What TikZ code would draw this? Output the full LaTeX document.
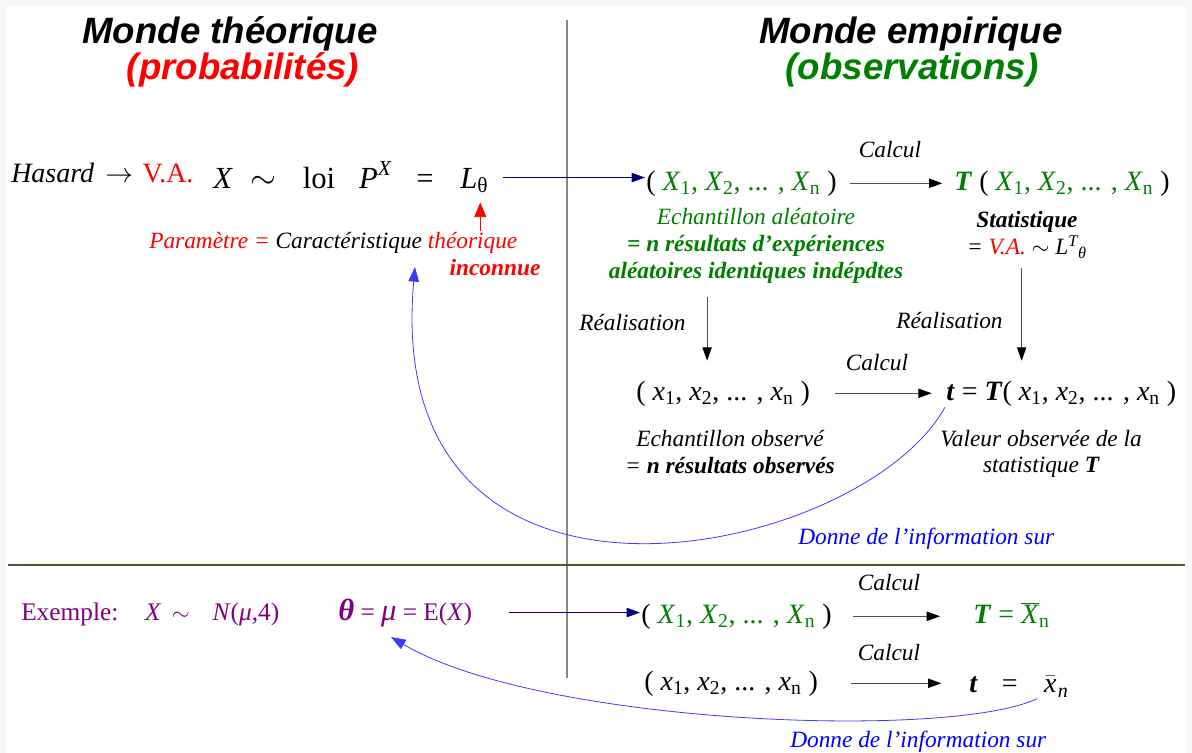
\documentclass[tikz,border=0pt]{standalone}
\usepackage{fontspec}
\setmainfont{Liberation Serif}
\newfontfamily\titlefont{Liberation Sans}
\usetikzlibrary{arrows.meta,positioning}

\definecolor{vert}{RGB}{0,128,0}
\definecolor{rouge}{RGB}{255,0,0}
\definecolor{pourpre}{RGB}{128,0,128}
\definecolor{marine}{RGB}{0,0,128}
\definecolor{bleu}{RGB}{0,0,255}
\definecolor{bleuc}{RGB}{60,60,255}
\definecolor{gris}{RGB}{135,135,122}
\definecolor{brun}{RGB}{90,82,50}
\definecolor{fond}{RGB}{248,248,248}

\newcommand{\varX}[1]{\textit{X}\textsubscript{#1}}
\newcommand{\varx}[1]{\textit{x}\textsubscript{#1}}

\begin{document}
\begin{tikzpicture}[x=0.75pt,y=0.75pt,yscale=-1,
    every node/.style={inner sep=0.75pt},
    titre/.style={font=\titlefont\bfseries\itshape\fontsize{27.5}{32}\selectfont},
    grand/.style={font=\fontsize{21}{25}\selectfont},
    exfont/.style={font=\fontsize{19}{23}\selectfont},
    texte/.style={font=\fontsize{17.5}{20}\selectfont\itshape,align=center},
    calc/.style={-{Triangle[length=10pt,width=7pt,color=black]},draw=gris!60!black,line width=0.8pt},
    versech/.style={-{Triangle[length=10pt,width=7pt]},draw=marine,line width=0.8pt},
    info/.style={-{Triangle[length=11pt,width=8pt]},draw=bleuc,line width=0.6pt}]
    \useasboundingbox (0,0) rectangle (1192,753);
    \fill[fond] (0,0) rectangle (1192,753);
    \fill[white] (7,7) rectangle (1186,753);

    % separations
    \draw[gris,line width=1pt] (567,20) -- (567,678);
    \draw[brun,line width=1pt] (8,565) -- (1185,565);

    % Titles
    \node[titre,anchor=base] (mondeT) at (230,43) {Monde théorique};
    \node[titre,anchor=base,text=rouge] (probas) at (243,79) {(probabilités)};
    \node[titre,anchor=base] (mondeE) at (911,43) {Monde empirique};
    \node[titre,anchor=base,text=vert] (observ) at (912,79) {(observations)};

    % Text Node: loi
    \node[grand,anchor=base west] (hasard) at (10,182) {\textit{Hasard}\hspace{3pt} $\rightarrow$ \hspace{2pt}\textcolor{rouge}{V.A.}};
    \node[grand,anchor=base west,font=\fontsize{23}{27}\selectfont] (loi) at (212,188) {\textit{X}\hspace{13pt}$\sim$\hspace{20pt}loi\hspace{18pt}\textit{P}\textsuperscript{\textit{X}}\hspace{18pt}=\hspace{20pt}\textit{L}\textsubscript{θ}};
    \node[texte,anchor=base west] (param) at (148,248) {\textcolor{rouge}{Paramètre =} Caractéristique \textcolor{rouge}{théorique}};
    \node[texte,anchor=base,text=rouge] (inconnue) at (495,275) {\textbf{inconnue}};

    % Text Node: echantillon aleatoire
    \node[grand,anchor=base west] (ech) at (645,190) {( \textcolor{vert}{\varX{1}, \varX{2}, ... , \varX{n}} )};
    \node[grand,anchor=base west] (stat) at (953,190) {\textcolor{vert}{\textbf{\textit{T}}} ( \textcolor{vert}{\varX{1}, \varX{2}, ... , \varX{n}} )};
    \node[texte,anchor=base] (calcA) at (890,157) {Calcul};
    \node[texte,text=vert] (echdesc) at (756,246) {Echantillon aléatoire\\\textbf{= n résultats d’expériences}\\\textbf{aléatoires identiques indépdtes}};
    \node[texte] (statdesc) at (1027,235) {\textbf{Statistique}\\= \textcolor{rouge}{V.A.} $\sim$ \textit{L}\textsuperscript{\textit{T}}\textsubscript{\textit{θ}}};

    % Text Node: realisation
    \node[texte,anchor=base west] (realA) at (578,330) {Réalisation};
    \node[texte,anchor=base west] (realB) at (895,328) {Réalisation};
    \node[grand,anchor=base west] (xobs) at (635,400) {( \varx{1}, \varx{2}, ... , \varx{n} )};
    \node[grand,anchor=base west] (tobs) at (945,400) {\textbf{\textit{t}} = \textbf{\textit{T}}( \varx{1}, \varx{2}, ... , \varx{n} )};
    \node[texte,anchor=base] (calcB) at (877,370) {Calcul};
    \node[texte] (xdesc) at (730,452) {Echantillon observé\\= \textbf{n résultats observés}};
    \node[texte] (tdesc) at (1041,454) {Valeur observée de la\\statistique \textbf{T}};
    \node[texte,anchor=base west,text=bleu] (infoTxtA) at (797,544) {Donne de l’information sur};
    \coordinate (infoA) at (415,267);

    % Text Node: exemple
    \node[exfont,anchor=base west,text=pourpre] (exemple) at (20,620) {Exemple:\hspace{20pt}\textit{X}\hspace{8pt}$\sim$\hspace{17pt}\textit{N}(\textit{μ},4)};
    \node[exfont,anchor=base west,text=pourpre] (theta) at (337,620) {{\fontsize{23}{25}\selectfont\textbf{\textit{θ}}} = {\fontsize{23}{25}\selectfont\textit{μ}} = E(\textit{X})};
    \node[grand,anchor=base west] (exech) at (640,623) {( \textcolor{vert}{\varX{1}, \varX{2}, ... , \varX{n}} )};
    \node[grand,anchor=base west,text=vert] (exT) at (972,623) {\textbf{\textit{T}} = $\overline{\mbox{\textit{X}}}$\textsubscript{n}};
    \node[texte,anchor=base] (calcC) at (889,590) {Calcul};
    \node[grand,anchor=base west] (exobs) at (643,690) {( \varx{1}, \varx{2}, ... , \varx{n} )};
    \node[grand,anchor=base west] (ext) at (968,692) {\textbf{\textit{t}}\hspace{18pt}=\hspace{20pt}$\bar{\mbox{\textit{x}}}$\hspace{1pt}\raisebox{-4pt}{\fontsize{15}{17}\selectfont\textit{n}}};
    \node[texte,anchor=base] (calcD) at (889,660) {Calcul};
    \node[texte,anchor=base west,text=bleu] (infoTxtB) at (789,747) {Donne de l’information sur};
    \coordinate (infoB) at (391,637);

    % connectors
    \draw[versech,shorten <=10pt] (loi.east) -- (loi.east -| ech.west);
    \draw[calc,shorten <=9pt,shorten >=8pt] (ech.east) -- (ech.east -| stat.west);
    \draw[-{Triangle[length=11pt,width=9pt]},rouge,line width=0.6pt,shorten >=6pt]
        ([xshift=-7pt]loi.south east |- param.north) -- ([xshift=-7pt]loi.south east);
    \draw[calc,shorten <=9pt,shorten >=14pt] ([xshift=-12pt]echdesc.south -| xobs.north) -- ([xshift=-12pt]xobs.north);
    \draw[calc,shorten <=6pt,shorten >=14pt] ([xshift=-4pt]statdesc.south) -- ([xshift=-4pt]statdesc.south |- tobs.north);
    \draw[calc,shorten <=18pt,shorten >=10pt] (xobs.east) -- (xobs.east -| tobs.west);
    \draw[info] (tobs.south west) .. controls (860,560) and (380,660) .. (infoA);

    \draw[versech,shorten <=27pt] (theta.east) -- (theta.east -| exech.west);
    \draw[calc,shorten <=15pt,shorten >=24pt] (exech.east) -- (exech.east -| exT.west);
    \draw[calc,shorten <=24pt,shorten >=20pt] (exobs.east) -- (exobs.east -| ext.west);
    \draw[info] ([xshift=14pt]ext.south) .. controls (950,740) and (540,725) .. (infoB);
\end{tikzpicture}
\end{document}
